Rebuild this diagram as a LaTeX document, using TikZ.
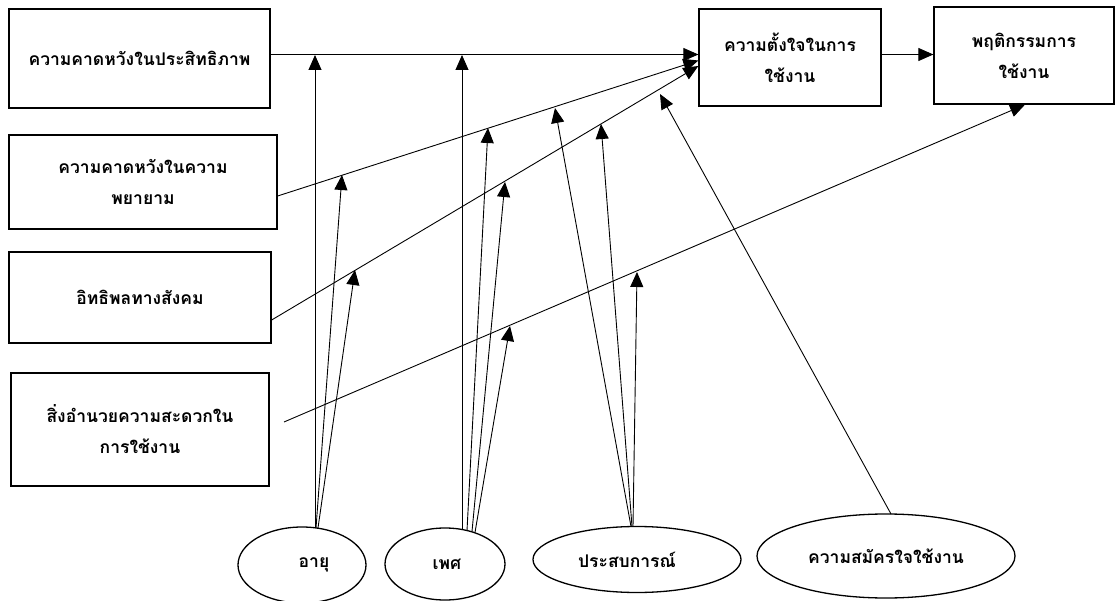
\documentclass[tikz,border=0pt]{standalone}
\usepackage{fontspec}
\newfontfamily\thaifont[Script=Thai]{Loma}
\usetikzlibrary{arrows.meta,shapes.geometric}
\begin{document}
\begin{tikzpicture}[x=1pt,y=-1pt,
  txt/.style={font=\thaifont\bfseries\fontsize{17.5}{31}\selectfont},
  box/.style={draw,line width=1.3pt,inner sep=0pt,align=center,txt},
  oval/.style={draw,ellipse,line width=1.3pt,inner sep=0pt,txt},
  conn/.style={line width=0.9pt,-{Triangle[length=15pt,width=13pt]}}
]
\useasboundingbox (0,0) rectangle (1116,601);
\fill[white] (0,0) rectangle (1116,601);
% boxes
\node[box,minimum width=261pt,minimum height=99pt] (b1) at (139.5,58.5) {ความคาดหวังในประสิทธิภาพ};
\node[box,minimum width=268pt,minimum height=94pt] (b2) at (143,182) {ความคาดหวังในความ\\พยายาม};
\node[box,minimum width=262pt,minimum height=91pt] (b3) at (140,297.5) {อิทธิพลทางสังคม};
\node[box,minimum width=258pt,minimum height=113pt] (b4) at (140,429.5) {สิ่งอำนวยความสะดวกใน\\การใช้งาน};
\node[box,minimum width=182pt,minimum height=97pt] (b5) at (790,57.5) {ความตั้งใจในการ\\ใช้งาน};
\node[box,minimum width=180pt,minimum height=97pt] (b6) at (1024,55.5) {พฤติกรรมการ\\ใช้งาน};
% ellipses
\node[oval,minimum width=128pt,minimum height=76pt] (e1) at (302,565) {\hspace*{24pt}อายุ};
\node[oval,minimum width=120pt,minimum height=72pt] (e2) at (445,564) {\hspace*{4pt}เพศ};
\node[oval,minimum width=208pt,minimum height=66pt] (e3) at (637,559.5) {ประสบการณ์\hspace*{20pt}};
\node[oval,minimum width=258pt,minimum height=84pt] (e4) at (886,556) {ความสมัครใจใช้งาน};
% free ends
\coordinate (s4) at (284,422);
\coordinate (a0) at (315,528);
\coordinate (a1) at (316,528);
\coordinate (a2) at (318,528);
\coordinate (g0) at (462,529.5);
\coordinate (g1) at (467,530.5);
\coordinate (g2) at (472,531.5);
\coordinate (g3) at (475,532.5);
\coordinate (p0) at (631,526.5);
\coordinate (p1) at (632,526.5);
\coordinate (p2) at (633,526.5);
\coordinate (v0) at (891,514);
\coordinate (ta0) at (315,55);
\coordinate (ta1) at (342,175);
\coordinate (ta2) at (355,270);
\coordinate (tg0) at (462,55);
\coordinate (tg1) at (488,128);
\coordinate (tg2) at (505,182);
\coordinate (tg3) at (510,326);
\coordinate (tp0) at (555,108);
\coordinate (tp1) at (601,124);
\coordinate (tp2) at (637,272);
\coordinate (tv0) at (660,94);
% main connectors
\draw[conn] ([yshift=4pt]b1.east) -- ([yshift=3pt]b5.west);
\draw[conn] ([yshift=-14pt]b2.east) -- ([yshift=-3pt]b5.west);
\draw[conn] ([yshift=-22.5pt]b3.east) -- ([yshift=-8.5pt]b5.west);
\draw[conn] (s4) -- ([xshift=1pt]b6.south);
\draw[conn] ([yshift=3pt]b5.east) -- ([yshift=1pt]b6.west);
% moderators
\draw[conn] (a0) -- (ta0);
\draw[conn] (a1) -- (ta1);
\draw[conn] (a2) -- (ta2);
\draw[conn] (g0) -- (tg0);
\draw[conn] (g1) -- (tg1);
\draw[conn] (g2) -- (tg2);
\draw[conn] (g3) -- (tg3);
\draw[conn] (p0) -- (tp0);
\draw[conn] (p1) -- (tp1);
\draw[conn] (p2) -- (tp2);
\draw[conn] (v0) -- (tv0);
\end{tikzpicture}
\end{document}
